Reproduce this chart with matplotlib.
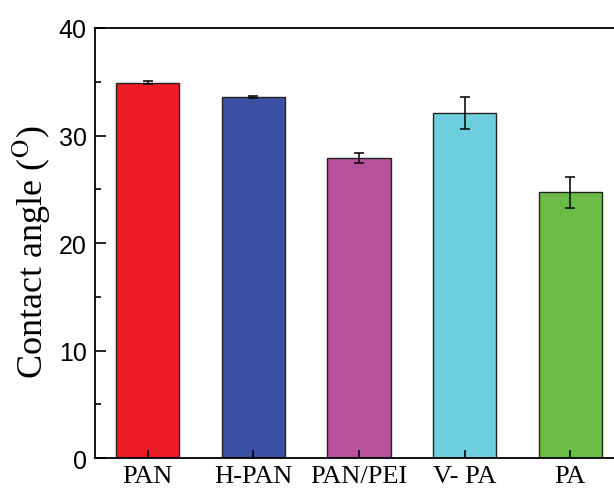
import numpy as np
import matplotlib
matplotlib.use("Agg")
import matplotlib.pyplot as plt
from matplotlib.ticker import MultipleLocator

# contact angle per membrane
samples = ["PAN", "H-PAN", "PAN/PEI", "V- PA", "PA"]
angle = [34.9, 33.6, 27.9, 32.1, 24.7]
angle_err = [0.15, 0.12, 0.47, 1.5, 1.47]
colors = ["#ED1C24", "#3A51A3", "#B6529D", "#6ECEDE", "#6CBD47"]

plt.rcParams["mathtext.fontset"] = "stix"

fig = plt.figure(figsize=(6.14, 4.89), dpi=100)
ax = fig.add_axes([0.1547, 0.0613, 0.86, 0.8794])

x = np.arange(1, len(samples) + 1)
ax.bar(x, angle, width=0.6, color=colors, edgecolor="#222222", linewidth=1.0,
       yerr=angle_err, capsize=3.5,
       error_kw=dict(ecolor="#111111", elinewidth=1.2, capthick=1.2))

ax.set_xlim(0.5, 5.5)
ax.set_ylim(0, 40)
ax.yaxis.set_major_locator(MultipleLocator(10))
ax.yaxis.set_minor_locator(MultipleLocator(5))
ax.set_xticks(x)
ax.set_xticklabels(samples, fontfamily="Liberation Serif", fontsize=19)
for lab in ax.get_yticklabels():
    lab.set_fontfamily("Liberation Sans")
    lab.set_fontsize(18)

ax.tick_params(axis="y", which="major", direction="in", length=8, width=1.2, pad=6)
ax.tick_params(axis="y", which="minor", direction="in", length=4, width=1.2)
ax.tick_params(axis="x", which="major", direction="in", length=6, width=1.2, pad=5)
ax.tick_params(top=False, right=False)
for s in ax.spines.values():
    s.set_linewidth(1.3)

ax.set_ylabel(r"Contact angle ($^{\rm O}$)", fontfamily="Liberation Serif",
              fontsize=26)
ax.yaxis.set_label_coords(-0.08, 0.481)

fig.savefig("out.png", dpi=100)
